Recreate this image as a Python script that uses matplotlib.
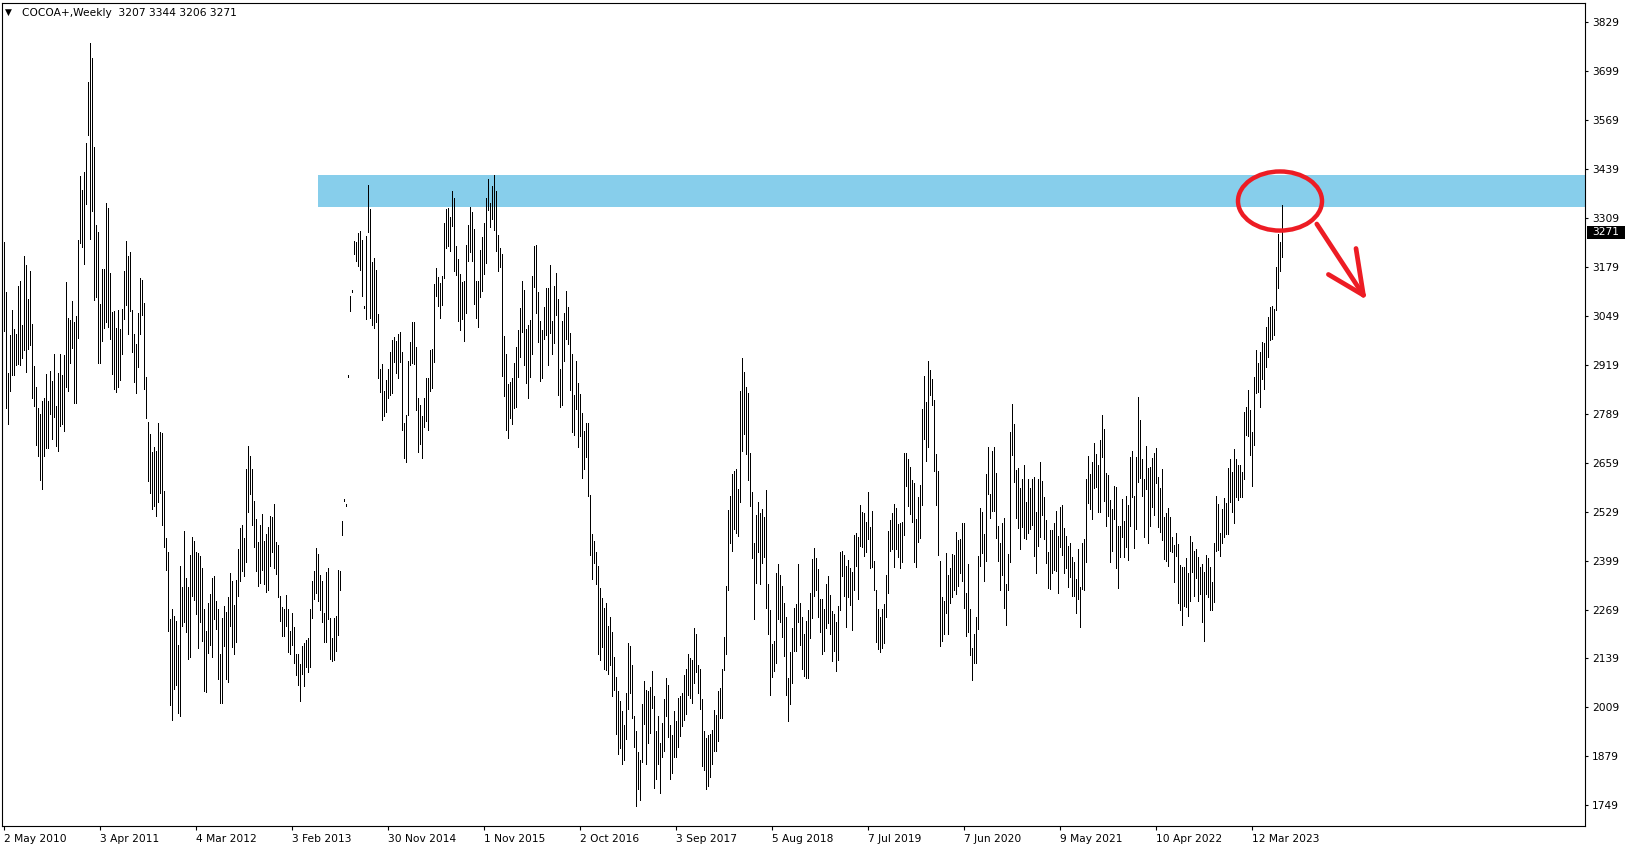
import matplotlib

matplotlib.use("Agg")
import matplotlib.pyplot as plt
import matplotlib.transforms as mtransforms
from matplotlib.patches import Ellipse, Rectangle

# weekly bars (index = bar number on the x axis)
highs = [
    3245, 3112, 2898, 2998, 3065, 3014, 3001, 3129, 3142, 3024,
    3208, 3184, 3093, 3168, 3027, 2915, 2860, 2804, 2789, 2822,
    2831, 2894, 2823, 2902, 2876, 2947, 2810, 2898, 2947, 2892,
    2946, 3140, 3044, 3038, 3089, 3032, 3048, 3251, 3421, 3382,
    3431, 3508, 3671, 3775, 3734, 3498, 3290, 3272, 3081, 3174,
    3174, 3348, 3336, 3163, 3058, 3061, 3017, 3065, 3014, 3067,
    3168, 3248, 3207, 3219, 3065, 3002, 2975, 3057, 3149, 3144,
    3083, 2887, 2768, 2735, 2688, 2702, 2690, 2765, 2741, 2738,
    2583, 2460, 2423, 2245, 2270, 2251, 2239, 2175, 2385, 2328,
    2478,
    2354, 2328, 2415, 2461, 2451, 2422, 2420, 2411, 2379, 2270,
    2211, 2287, 2311, 2354, 2358, 2292, 2270, 2152, 2246, 2278,
    2262, 2302, 2366, 2344, 2281, 2347, 2430, 2485, 2493, 2460,
    2643, 2703, 2676, 2643, 2558, 2510, 2449, 2493, 2523, 2451,
    2470, 2487, 2517, 2515, 2550, 2449, 2441, 2304, 2276, 2270,
    2308, 2270, 2211, 2261, 2223, 2152, 2152, 2124, 2171, 2181,
    2188, 2194, 2270, 2344, 2371, 2432, 2417, 2361, 2346, 2259,
    2368, 2379, 2246, 2194, 2246, 2251, 2375, 2371, 2504, 2562,
    2548, 2892, 3103, 3118, 3248, 3244, 3270, 3274, 3251, 3075,
    3261, 3397, 3333, 3191, 3204, 3171, 3054, 2908, 2921, 2849,
    2878, 2908, 2952, 2985, 2992, 2982, 3000, 3005, 2952, 2765,
    2786, 2929, 2979, 3032, 3032, 2965, 2830, 2812, 2784, 2830,
    2883, 2883, 2958, 2961, 3133, 3175, 3151, 3135, 3155, 3295,
    3332, 3335, 3311, 3381, 3361, 3235, 3199, 3160, 3138, 3142,
    3237, 3290, 3337, 3324, 3280, 3142, 3142, 3224, 3259, 3295,
    3361, 3413, 3350, 3395, 3423, 3381, 3264, 3228, 3212, 2995,
    2948, 2868, 2874, 2883, 2923, 2965, 3011, 3069, 3142, 3117,
    3013, 3025, 3038, 3155, 3235, 3237, 3113, 3036, 3011, 3072,
    3123, 3123, 3184, 3035, 3129, 3162, 3093, 2908, 3035, 3057,
    3115, 3073, 3004, 2947, 2840, 2930, 2871, 2842, 2791, 2743,
    2765, 2764, 2574, 2470, 2452, 2423, 2384, 2326, 2299, 2273,
    2285, 2226, 2249, 2210, 2144, 2090, 2053, 2027, 2000, 1963,
    2046, 2181, 2173, 2122, 1985, 1946, 1890, 1868, 2019, 2080,
    2056, 2053, 2064, 2107, 2038, 1946, 1986, 1915, 1968, 2032,
    2087, 2069, 1961, 1937, 2000, 1973, 2035, 2039, 2048, 2095,
    2111, 2150, 2139, 2134, 2219, 2205, 2121, 2111, 2032, 1947,
    1927, 1937, 1939, 1949, 2002, 1990, 2053, 2061, 2110, 2195,
    2331, 2533, 2570, 2629, 2637, 2642, 2589, 2849, 2936, 2899,
    2859, 2843, 2686, 2580, 2445, 2520, 2554, 2526, 2535, 2514,
    2586, 2337, 2269, 2177, 2186, 2365, 2389, 2362, 2331, 2287,
    2248, 2088, 2157, 2221, 2272, 2283, 2389, 2287, 2248, 2204,
    2238, 2269, 2312, 2403, 2433, 2407, 2376, 2297, 2297, 2270,
    2337, 2358, 2307, 2266, 2257, 2236, 2278, 2422, 2425, 2414,
    2385, 2400, 2378, 2368, 2467, 2473, 2461, 2547, 2529, 2526,
    2502, 2582, 2489, 2531, 2398, 2322, 2270, 2250, 2270, 2284,
    2360, 2478, 2507, 2526, 2549, 2538, 2496, 2498, 2502, 2686,
    2686, 2668, 2647, 2613, 2604, 2509, 2567, 2601, 2802, 2890,
    2819, 2930, 2905, 2880, 2825, 2682, 2637, 2398, 2301, 2292,
    2418, 2360, 2380, 2416, 2414, 2474, 2453, 2456, 2500, 2500,
    2313, 2390, 2270, 2168, 2204, 2248, 2411, 2539, 2527, 2469,
    2629, 2700, 2575, 2690, 2700, 2631, 2491, 2445, 2500, 2511,
    2338, 2416, 2740, 2815, 2761, 2639, 2644, 2591, 2616, 2653,
    2555, 2616, 2593, 2616, 2622, 2529, 2617, 2660, 2610, 2569,
    2507, 2421, 2480, 2480, 2498, 2531, 2465, 2542, 2546, 2486,
    2465, 2437, 2445, 2409, 2396, 2350, 2431, 2329, 2447, 2456,
    2616, 2677, 2629, 2660, 2710, 2682, 2654, 2719, 2786, 2748,
    2631, 2626, 2560, 2536, 2598, 2595, 2492, 2491, 2562, 2504,
    2570, 2546, 2675, 2690, 2571, 2675, 2834, 2772, 2668, 2616,
    2703, 2646, 2648, 2672, 2686, 2699, 2622, 2593, 2642, 2514,
    2526, 2538, 2515, 2462, 2440, 2473, 2442, 2387, 2381, 2383,
    2405, 2365, 2464, 2449, 2424, 2431, 2409, 2383, 2390, 2369,
    2415, 2407, 2383, 2343, 2446, 2570, 2549, 2471, 2536, 2566,
    2553, 2646, 2668, 2635, 2695, 2670, 2653, 2653, 2635, 2794,
    2808, 2852, 2799, 2741, 2886, 2958, 2925, 2952, 2979, 2976,
    3020, 3047, 3073, 3076, 3066, 3178, 3266, 3246, 3344,
]
lows = [
    3008, 2803, 2762, 2850, 2892, 2892, 2919, 2921, 2919, 2936,
    2957, 2899, 2961, 2972, 2832, 2809, 2706, 2678, 2613, 2590,
    2678, 2697, 2697, 2789, 2721, 2780, 2703, 2691, 2757, 2761,
    2743, 2860, 2850, 2925, 2964, 2818, 2818, 2990, 3242, 3233,
    3186, 3346, 3530, 3253, 3328, 3092, 3100, 2923, 2923, 2981,
    3017, 3034, 3020, 2987, 2895, 2856, 2848, 2860, 2878, 2949,
    3040, 3079, 3002, 3061, 2952, 2872, 2844, 2913, 3002, 3050,
    2856, 2777, 2611, 2579, 2536, 2545, 2518, 2554, 2579, 2494,
    2435, 2373, 2213, 2015, 1976, 2059, 2068, 1994, 1986, 2225,
    2237,
    2209, 2138, 2143, 2306, 2295, 2256, 2166, 2237, 2186, 2053,
    2050, 2154, 2176, 2142, 2245, 2216, 2085, 2020, 2020, 2173,
    2085, 2077, 2226, 2169, 2152, 2183, 2306, 2346, 2371, 2358,
    2394, 2527, 2577, 2494, 2434, 2370, 2332, 2339, 2373, 2338,
    2316, 2322, 2385, 2422, 2380, 2363, 2301, 2238, 2199, 2199,
    2226, 2156, 2150, 2176, 2128, 2096, 2069, 2026, 2099, 2066,
    2116, 2104, 2115, 2247, 2297, 2314, 2292, 2268, 2237, 2183,
    2183, 2245, 2137, 2131, 2134, 2159, 2202, 2322, 2466, 2557,
    2543, 2887, 3063, 3113, 3214, 3195, 3182, 3170, 3103, 3070,
    3041, 3273, 3044, 3026, 3018, 3032, 2883, 2848, 2773, 2784,
    2794, 2830, 2839, 2845, 2927, 2896, 2883, 2927, 2746, 2672,
    2662, 2786, 2918, 2923, 2920, 2799, 2688, 2708, 2672, 2755,
    2770, 2746, 2850, 2858, 2927, 3103, 3076, 3044, 3078, 3149,
    3230, 3235, 3222, 3288, 3168, 3158, 3035, 3012, 3041, 2983,
    3057, 3196, 3218, 3196, 3080, 3042, 3020, 3100, 3115, 3160,
    3189, 3330, 3286, 3305, 3277, 3221, 3168, 3178, 2890, 2837,
    2746, 2724, 2777, 2762, 2803, 2806, 2887, 2941, 3007, 2918,
    2871, 2832, 2886, 2947, 3126, 3057, 2980, 2877, 2885, 2987,
    2999, 2918, 3003, 2947, 2976, 3050, 2840, 2808, 2811, 2928,
    2988, 2974, 2853, 2741, 2733, 2801, 2701, 2730, 2618, 2643,
    2673, 2570, 2414, 2351, 2392, 2336, 2151, 2136, 2170, 2111,
    2108, 2098, 2122, 2039, 2056, 1939, 1884, 1900, 1859, 1869,
    1925, 2004, 2046, 1980, 1903, 1747, 1793, 1762, 1864, 1966,
    1858, 1915, 1942, 2007, 1796, 1819, 1858, 1781, 1876, 1892,
    1985, 1931, 1820, 1835, 1876, 1878, 1903, 1934, 1959, 1975,
    1991, 2043, 2035, 2022, 2075, 2102, 2048, 2004, 1854, 1842,
    1793, 1800, 1825, 1859, 1892, 1893, 1920, 1981, 1981, 2108,
    2151, 2322, 2446, 2425, 2484, 2471, 2465, 2555, 2691, 2734,
    2681, 2613, 2545, 2405, 2243, 2340, 2422, 2336, 2393, 2409,
    2272, 2203, 2043, 2090, 2106, 2126, 2244, 2236, 2197, 2146,
    2043, 1973, 2019, 2073, 2159, 2158, 2236, 2176, 2110, 2092,
    2088, 2088, 2194, 2247, 2306, 2321, 2250, 2208, 2150, 2159,
    2221, 2234, 2203, 2133, 2159, 2105, 2136, 2267, 2359, 2306,
    2223, 2301, 2281, 2214, 2322, 2384, 2298, 2438, 2434, 2412,
    2422, 2455, 2378, 2383, 2322, 2183, 2163, 2155, 2168, 2179,
    2250, 2314, 2425, 2430, 2383, 2430, 2409, 2380, 2396, 2467,
    2598, 2545, 2522, 2502, 2396, 2381, 2449, 2458, 2546, 2722,
    2664, 2701, 2839, 2812, 2638, 2546, 2415, 2173, 2186, 2204,
    2260, 2205, 2285, 2301, 2321, 2309, 2332, 2365, 2345, 2274,
    2199, 2210, 2148, 2083, 2127, 2127, 2217, 2385, 2418, 2345,
    2399, 2576, 2513, 2530, 2531, 2458, 2399, 2322, 2360, 2272,
    2229, 2322, 2396, 2679, 2607, 2513, 2486, 2431, 2487, 2460,
    2455, 2471, 2482, 2493, 2412, 2365, 2438, 2462, 2520, 2456,
    2393, 2327, 2323, 2365, 2374, 2371, 2312, 2436, 2415, 2365,
    2380, 2329, 2356, 2306, 2306, 2260, 2296, 2223, 2323, 2321,
    2394, 2553, 2536, 2509, 2591, 2595, 2529, 2529, 2675, 2558,
    2492, 2518, 2396, 2425, 2509, 2380, 2327, 2409, 2462, 2409,
    2436, 2400, 2492, 2569, 2433, 2484, 2608, 2619, 2571, 2462,
    2588, 2447, 2492, 2542, 2520, 2606, 2489, 2476, 2453, 2403,
    2398, 2385, 2424, 2422, 2341, 2411, 2285, 2269, 2229, 2278,
    2276, 2252, 2291, 2369, 2306, 2352, 2291, 2310, 2235, 2186,
    2309, 2303, 2269, 2269, 2290, 2425, 2427, 2412, 2447, 2462,
    2469, 2469, 2555, 2529, 2500, 2569, 2561, 2569, 2569, 2615,
    2732, 2730, 2679, 2598, 2706, 2843, 2846, 2808, 2880, 2855,
    2914, 2941, 2985, 2988, 2998, 3065, 3124, 3169, 3206,
]

last_bar = ["3207", "3344", "3206", "3271"]
last_close = 3271

date_labels = ["2 May 2010", "3 Apr 2011", "4 Mar 2012", "3 Feb 2013",
               "30 Nov 2014", "1 Nov 2015", "2 Oct 2016", "3 Sep 2017",
               "5 Aug 2018", "7 Jul 2019", "7 Jun 2020", "9 May 2021",
               "10 Apr 2022", "12 Mar 2023"]
date_label_bars = [0, 48, 96, 144, 192, 240, 288, 336, 384, 432, 480, 528, 576, 624]
price_ticks = [1749, 1879, 2009, 2139, 2269, 2399, 2529, 2659, 2789,
               2919, 3049, 3179, 3309, 3439, 3569, 3699, 3829]

# resistance zone and the hand-drawn marks
zone_low, zone_high = 3339, 3423
zone_start = 157
circle_center = (638, 3354)
arrow_x = [656.4, 679.7]
arrow_y = [3293, 3104]
head_left = ([662.2, 679.7], [3159, 3104])
head_right = ([676.0, 679.7], [3228, 3104])

RED = "#ED1C24"
FONT = 7.7
plt.rcParams["font.family"] = ["DejaVu Sans"]

fig = plt.figure(figsize=(16.35, 8.5), dpi=100)
ax = fig.add_axes([2 / 1635, 24 / 850, 1583 / 1635, 823 / 850])
x_max = 790.5
ax.set_xlim(-1, x_max)
ax.set_ylim(1694, 3880)

ax.fill_between([zone_start, x_max], zone_low, zone_high,
                color="#87CEEB", linewidth=0, zorder=1)

# 1 px wide bars, like the terminal draws them
ax.vlines(range(len(highs)), lows, highs, colors="black",
          linewidth=0.6, antialiased=False, zorder=3)

ax.add_patch(Ellipse(circle_center, width=42, height=157, fill=False,
                     edgecolor=RED, linewidth=3.2, zorder=4))
for xs, ys in [(arrow_x, arrow_y), head_left, head_right]:
    ax.plot(xs, ys, color=RED, linewidth=3.4, solid_capstyle="round", zorder=4)

for side in ["left", "right", "top", "bottom"]:
    ax.spines[side].set_color("black")
    ax.spines[side].set_linewidth(0.8)
ax.yaxis.tick_right()
ax.set_yticks(price_ticks)
ax.set_yticklabels([str(p) for p in price_ticks])
ax.tick_params(axis="y", direction="out", length=2.5, width=0.8,
               pad=2.5, labelsize=FONT)
ax.set_xticks(date_label_bars)
ax.set_xticklabels(date_labels, ha="left")
ax.tick_params(axis="x", direction="out", length=3, width=0.8,
               pad=2.5, labelsize=FONT)

ax.text(0.0018, 0.9945, "\u25bc", transform=ax.transAxes, fontsize=6.5,
        va="top", ha="left")
ax.text(0.0125, 0.9935, "COCOA+,Weekly  " + " ".join(last_bar),
        transform=ax.transAxes, fontsize=FONT, va="top", ha="left")

# current price tag on the price scale
blend = mtransforms.blended_transform_factory(ax.transAxes, ax.transData)
ax.add_patch(Rectangle((1.0013, last_close - 18), 0.024, 36, transform=blend,
                       facecolor="black", edgecolor="none", clip_on=False))
ax.text(1.0013 + 0.012, last_close, str(last_close), transform=blend,
        color="white", fontsize=FONT, ha="center", va="center", clip_on=False)

fig.savefig("out.png", dpi=100, facecolor="white")
